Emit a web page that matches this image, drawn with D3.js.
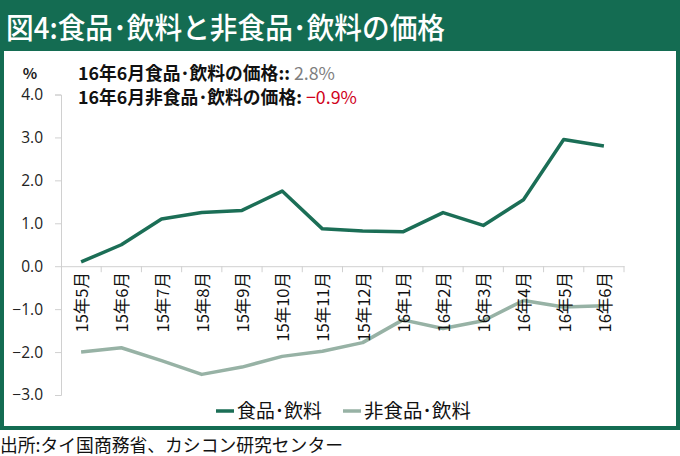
<!DOCTYPE html>
<html><head><meta charset="utf-8">
<script src="https://cdn.jsdelivr.net/npm/d3@7"></script>
<style>
html,body{margin:0;padding:0;background:#fff;}
svg{display:block;font-family:"Noto Sans CJK JP","Noto Sans",sans-serif;}
</style></head>
<body><svg id="c" width="680" height="456"></svg>
<script>
const categories = ["15年5月","15年6月","15年7月","15年8月","15年9月","15年10月","15年11月","15年12月","16年1月","16年2月","16年3月","16年4月","16年5月","16年6月"];
const foodValues = [0.1,0.5,1.1,1.25,1.3,1.75,0.87,0.82,0.8,1.25,0.95,1.55,2.95,2.8];
const nonFoodValues = [-2.0,-1.9,-2.2,-2.52,-2.35,-2.1,-1.98,-1.78,-1.25,-1.45,-1.27,-0.8,-0.95,-0.92];
const yTicks = [4,3,2,1,0,-1,-2,-3];
const seriesNames = ["食品･飲料","非食品･飲料"];
const titleText = "図4:食品･飲料と非食品･飲料の価格";
const sourceText = "出所:タイ国商務省、カシコン研究センター";

const svg = d3.select("#c");
const green = "#146c52", foodColor = "#1b6e56", nonFoodColor = "#97b2a5";

// frame
svg.append("rect").attr("x",0).attr("y",0).attr("width",680).attr("height",430).attr("fill",green);
svg.append("rect").attr("x",4).attr("y",51).attr("width",672).attr("height",375).attr("fill","#fff");
svg.append("text").attr("x",6).attr("y",39).attr("fill","#fff").attr("font-size",29)
  .attr("font-weight",500).attr("textLength",439).attr("lengthAdjust","spacingAndGlyphs").text(titleText);

const x = d3.scaleBand().domain(categories).range([61,624]);
const y = d3.scaleLinear().domain([-3,4]).range([395,94.5]);

// y axis
const ya = svg.append("g").attr("transform","translate(61,0)")
  .call(d3.axisLeft(y).tickValues(yTicks).tickFormat(d3.format(".1f")).tickSize(6).tickPadding(12));
ya.select(".domain").attr("stroke","#d0d0d0");
ya.selectAll(".tick line").attr("stroke","#d0d0d0");
ya.selectAll(".tick text").attr("font-size",15.5).attr("fill","#222").attr("font-family","'Open Sans','Noto Sans',sans-serif");

// x axis
const xa = svg.append("g").attr("transform",`translate(0,${y(0)})`)
  .call(d3.axisBottom(x).tickSize(0).tickFormat(""));
xa.select(".domain").attr("stroke","#d0d0d0");
svg.append("g").selectAll("line").data(categories).join("line")
  .attr("x1",(d,i)=>61+x.step()*(i+1)).attr("x2",(d,i)=>61+x.step()*(i+1))
  .attr("y1",y(0)).attr("y2",y(0)+6).attr("stroke","#d0d0d0");

// lines
const line = d3.line().x((d,i)=>x(categories[i])+x.bandwidth()/2).y(d=>y(d));
svg.append("path").datum(nonFoodValues).attr("d",line).attr("fill","none")
  .attr("stroke",nonFoodColor).attr("stroke-width",3.5).attr("stroke-linejoin","round");
svg.append("path").datum(foodValues).attr("d",line).attr("fill","none")
  .attr("stroke",foodColor).attr("stroke-width",3.5).attr("stroke-linejoin","round");

// x labels (on top of lines)
svg.append("g").selectAll("text").data(categories).join("text")
  .attr("transform",d=>`translate(${x(d)+x.bandwidth()/2},272) rotate(-90)`)
  .attr("text-anchor","end").attr("dominant-baseline","central")
  .attr("font-size",16.5).attr("fill","#111").text(d=>d);

// unit
svg.append("text").attr("x",30).attr("y",79).attr("text-anchor","middle").attr("font-size",15)
  .attr("font-weight",700).attr("fill","#222").text("%");

// annotations
const a1 = svg.append("text").attr("x",78).attr("y",80).attr("font-size",17.8);
a1.append("tspan").attr("font-weight",700).attr("fill","#111").text("16年6月食品･飲料の価格::");
a1.append("tspan").attr("fill","#7f7f7f").text(" " + foodValues[13].toFixed(1) + "%");
const a2 = svg.append("text").attr("x",78).attr("y",104).attr("font-size",17.8);
a2.append("tspan").attr("font-weight",700).attr("fill","#111").text("16年6月非食品･飲料の価格:");
a2.append("tspan").attr("fill","#d0021b").text(" −" + Math.abs(nonFoodValues[13]).toFixed(1) + "%");

// legend
const lg = [{n:seriesNames[0],c:foodColor,x:216,w:85},{n:seriesNames[1],c:nonFoodColor,x:343,w:107}];
const lgG = svg.append("g").selectAll("g").data(lg).join("g");
lgG.append("line").attr("x1",d=>d.x).attr("x2",d=>d.x+18).attr("y1",411).attr("y2",411)
  .attr("stroke",d=>d.c).attr("stroke-width",3.5);
lgG.append("text").attr("x",d=>d.x+21).attr("y",418).attr("font-size",19).attr("fill","#111")
  .attr("textLength",d=>d.w).attr("lengthAdjust","spacingAndGlyphs").text(d=>d.n);

// source
svg.append("text").attr("x",0).attr("y",452).attr("font-size",18).attr("fill","#111")
  .attr("textLength",343).attr("lengthAdjust","spacingAndGlyphs").text(sourceText);
</script></body></html>
